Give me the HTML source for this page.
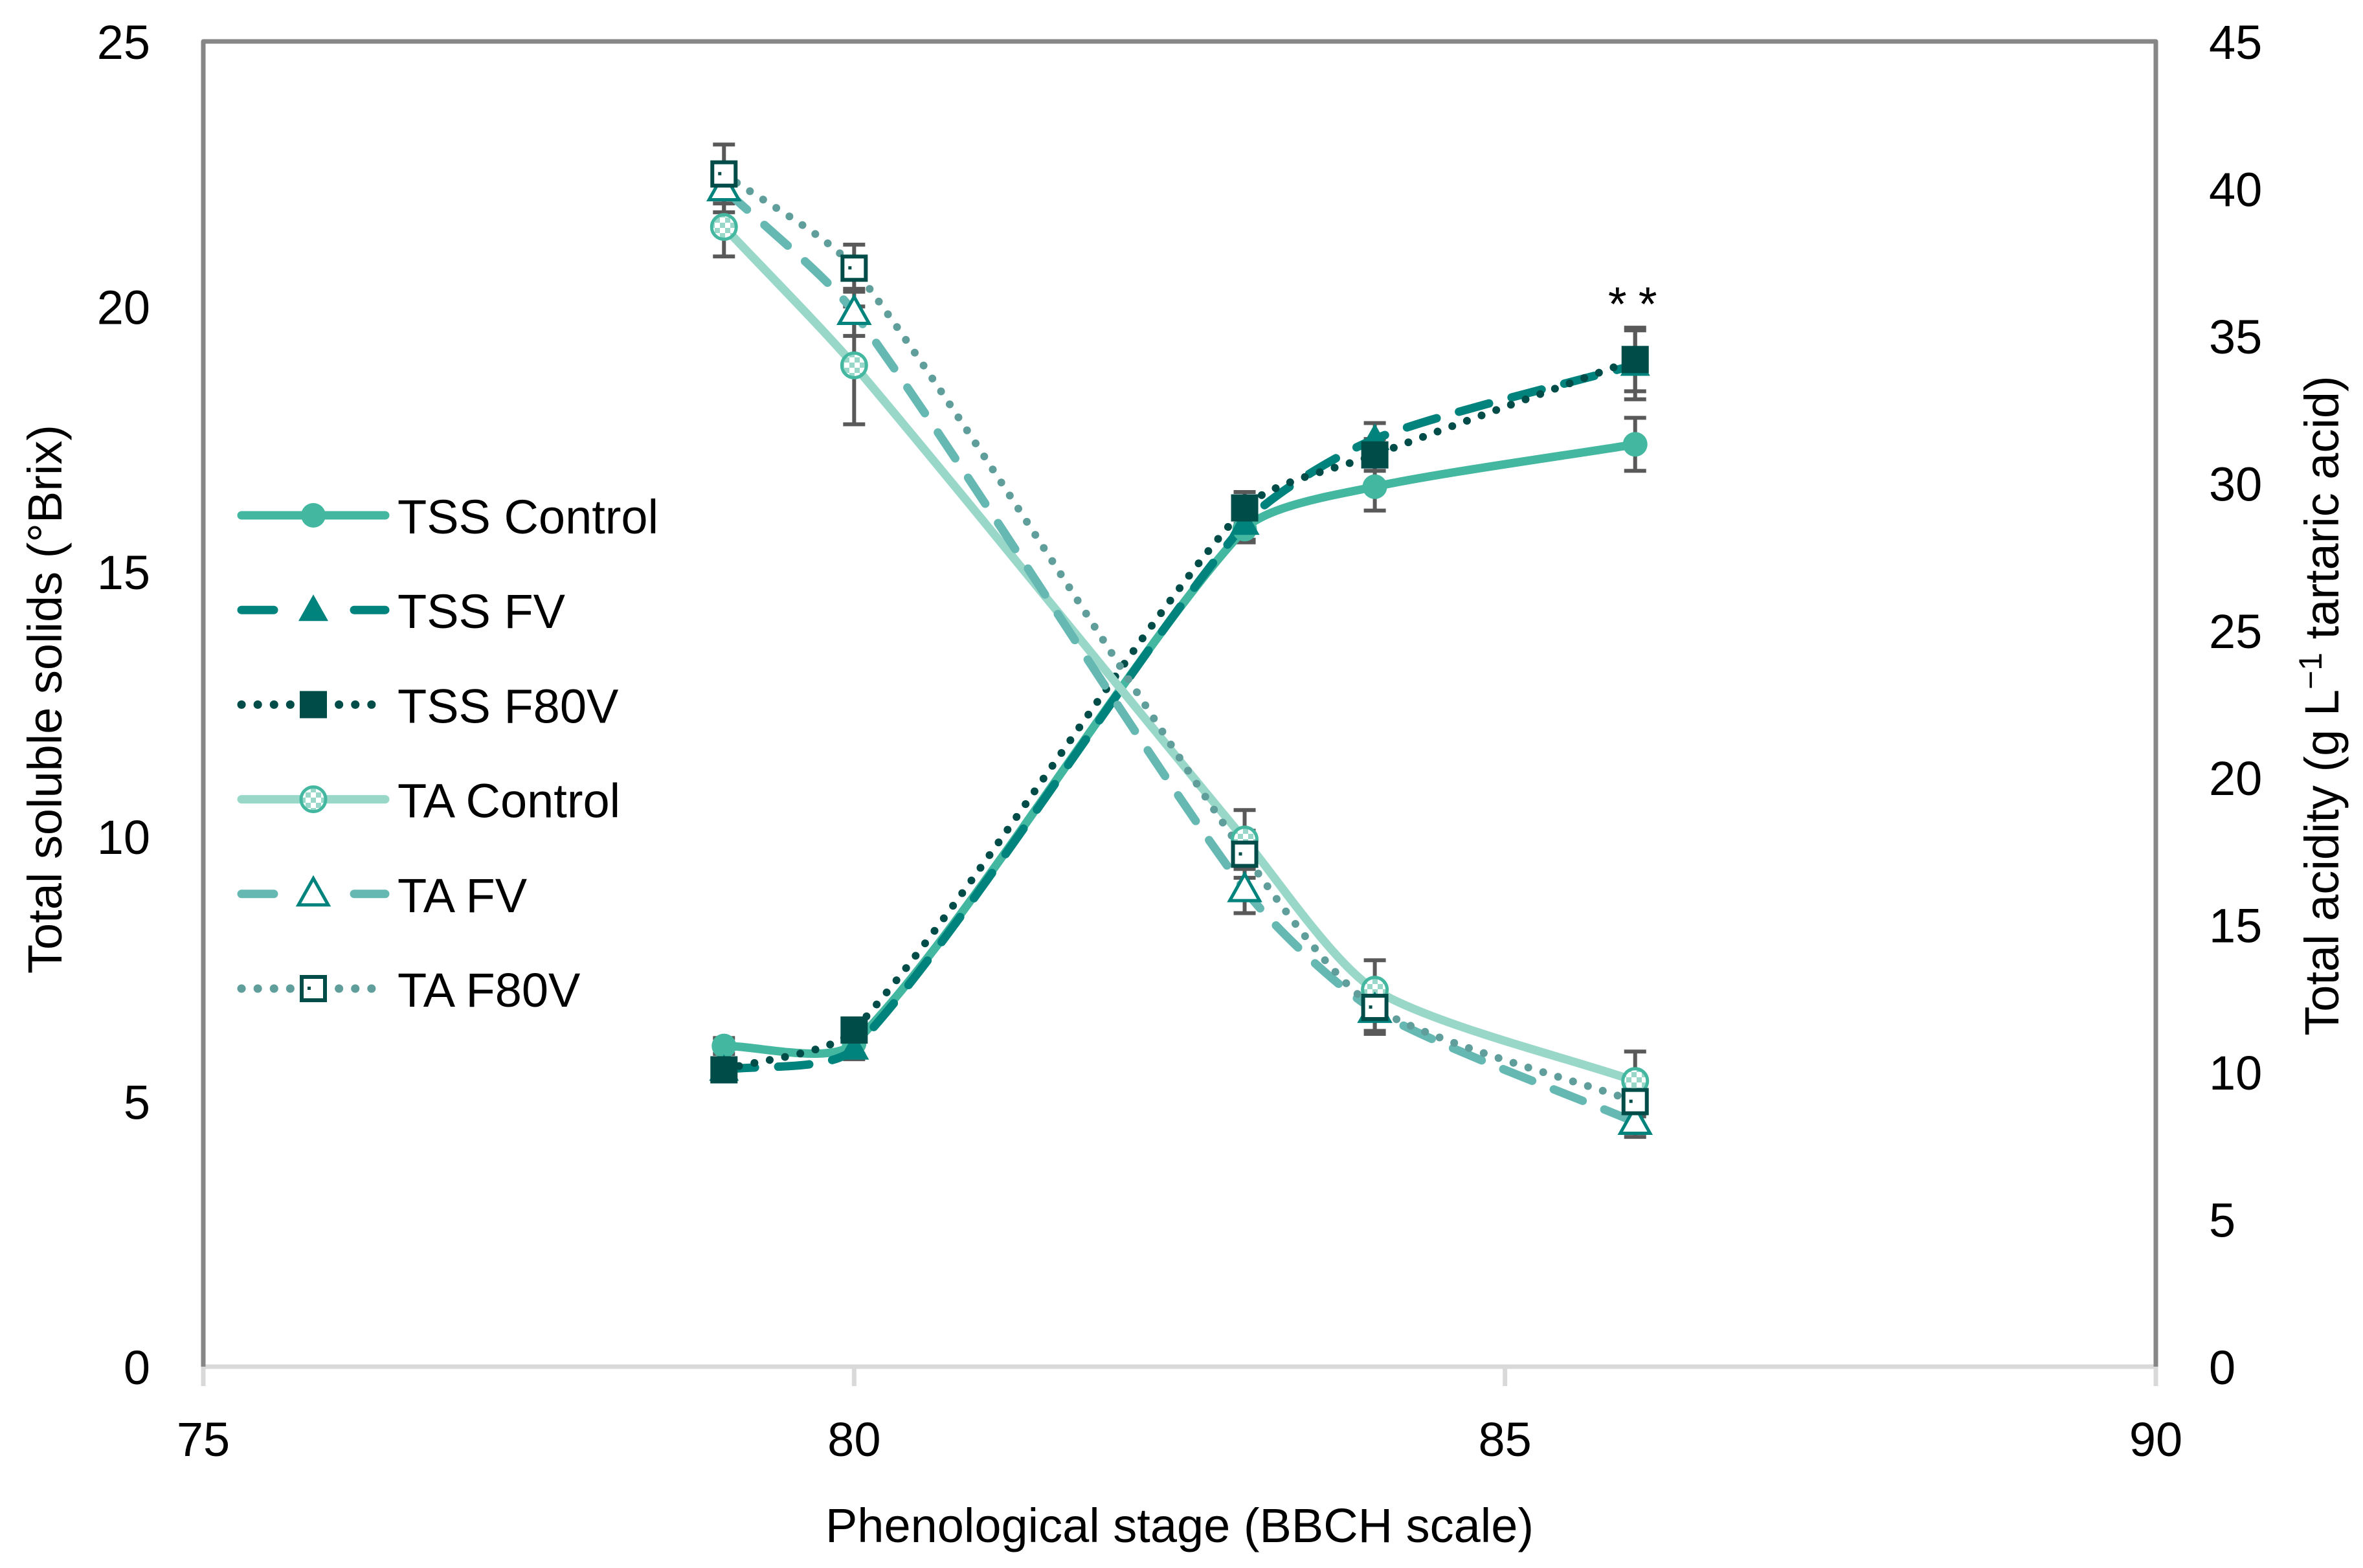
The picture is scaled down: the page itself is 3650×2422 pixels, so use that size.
<!DOCTYPE html>
<html><head><meta charset="utf-8">
<style>
html,body{margin:0;padding:0;background:#fff;}
svg{display:block;}
text{font-family:"Liberation Sans",sans-serif;fill:#000;}
</style></head>
<body>
<svg id="chart" width="3650" height="2422" viewBox="0 0 3650 2422" xmlns="http://www.w3.org/2000/svg">
<defs>
<pattern id="checker" width="16" height="16" patternUnits="userSpaceOnUse">
<rect width="16" height="16" fill="#fff"/>
<rect width="8" height="8" fill="#99d8c9"/>
<rect x="8" y="8" width="8" height="8" fill="#99d8c9"/>
</pattern>
</defs>
<g id="axes"></g>
<g id="series"></g>
<g id="legend"></g>
</svg>
<script>
const stages = [79, 80, 83, 84, 86];
const tssControl = [6.05, 6.1, 15.8, 16.6, 17.4];
const tssFV = [5.6, 6.0, 15.9, 17.5, 18.9];
const tssF80V = [5.6, 6.35, 16.2, 17.2, 19.0];
const tssControlErr = [0.15, 0.2, 0.25, 0.45, 0.5];
const tssFVErr = [0.15, 0.2, 0.3, 0.3, 0.65];
const tssF80VErr = [0.15, 0.2, 0.3, 0.3, 0.6];
const taControl = [38.7, 34.0, 17.9, 12.8, 9.7];
const taFV = [40.0, 35.8, 16.2, 12.1, 8.3];
const taF80V = [40.5, 37.3, 17.4, 12.2, 9.0];
const taControlErr = [1.0, 2.0, 1.0, 1.0, 1.0];
const taFVErr = [0.8, 0.8, 0.8, 0.8, 0.5];
const taF80VErr = [1.0, 0.8, 0.8, 0.8, 0.5];
const xTicks = [75, 80, 85, 90];
const yLeftTicks = [0, 5, 10, 15, 20, 25];
const yRightTicks = [0, 5, 10, 15, 20, 25, 30, 35, 40, 45];
const legendLabels = ["TSS Control", "TSS FV", "TSS F80V", "TA Control", "TA FV", "TA F80V"];

const NS = "http://www.w3.org/2000/svg";
const L = 314, R = 3330, T = 64, B = 2111;
function xs(v){ return L + (v - 75) / 15 * (R - L); }
function yl(v){ return B - v / 25 * (B - T); }
function yr(v){ return B - v / 45 * (B - T); }
function mk(tag, attrs, parent){
  const e = document.createElementNS(NS, tag);
  for (const k in attrs) e.setAttribute(k, attrs[k]);
  parent.appendChild(e);
  return e;
}
const axes = document.getElementById('axes');
const ser = document.getElementById('series');
const leg = document.getElementById('legend');

let e;
e = mk('line', {x1:L, y1:B, x2:R, y2:B, stroke:'#d9d9d9', 'stroke-width':7}, axes);


e = mk('path', {d:`M${L},${B} L${L},${T} L${R},${T} L${R},${B}`, fill:'none', stroke:'#868686', 'stroke-width':7, 'stroke-linejoin':'round'}, axes);



xTicks.forEach(v => {
  const t = mk('line', {x1:xs(v), y1:B, x2:xs(v), y2:B + 30, stroke:'#d9d9d9', 'stroke-width':7}, axes);
  
  
  const lb = mk('text', {x:xs(v), y:B + 138, 'font-size':74, 'text-anchor':'middle'}, axes);
  lb.textContent = v;
  
  
});
yLeftTicks.forEach(v => {
  const lb = mk('text', {x:232, y:yl(v) + 27, 'font-size':74, 'text-anchor':'end'}, axes);
  lb.textContent = v;
  
  
});
yRightTicks.forEach(v => {
  const lb = mk('text', {x:3412, y:yr(v) + 27, 'font-size':74, 'text-anchor':'start'}, axes);
  lb.textContent = v;
  
  
});
e = mk('text', {x:1822, y:2382, 'font-size':74, 'text-anchor':'middle'}, axes);
e.textContent = 'Phenological stage (BBCH scale)';


e = mk('text', {x:0, y:0, 'font-size':74, 'text-anchor':'middle', transform:'translate(95,1080) rotate(-90)'}, axes);
e.textContent = 'Total soluble solids (°Brix)';


e = mk('text', {x:0, y:0, 'font-size':74, 'text-anchor':'middle', transform:'translate(3612,1090) rotate(-90)'}, axes);
e.innerHTML = 'Total acidity (g L<tspan dy="-26" font-size="50">−1</tspan><tspan dy="26"> tartaric acid)</tspan>';



function smoothPath(pts){
  let d = `M${pts[0][0]},${pts[0][1]}`;
  const t = 0.12;
  for (let i = 0; i < pts.length - 1; i++){
    const p0 = pts[Math.max(0, i - 1)], p1 = pts[i], p2 = pts[i + 1], p3 = pts[Math.min(pts.length - 1, i + 2)];
    const seg = Math.hypot(p2[0]-p1[0], p2[1]-p1[1]);
    const d1 = Math.hypot(p2[0]-p0[0], p2[1]-p0[1]) || 1;
    const d2 = Math.hypot(p3[0]-p1[0], p3[1]-p1[1]) || 1;
    const k1 = Math.min(t * 2 * seg / d1 * 1.0, 0.3);
    const k2 = Math.min(t * 2 * seg / d2 * 1.0, 0.3);
    const c1 = [p1[0] + (p2[0] - p0[0]) * k1, p1[1] + (p2[1] - p0[1]) * k1];
    const c2 = [p2[0] - (p3[0] - p1[0]) * k2, p2[1] - (p3[1] - p1[1]) * k2];
    d += ` C${c1[0]},${c1[1]} ${c2[0]},${c2[1]} ${p2[0]},${p2[1]}`;
  }
  return d;
}

const styles = [
  {vals:tssControl, err:tssControlErr, y:yl, color:'#43b7a0', dash:null, marker:'circle', fill:'#43b7a0', mstroke:'#43b7a0', name:'tss-control'},
  {vals:tssFV, err:tssFVErr, y:yl, color:'#00837c', dash:'48 36', marker:'triangle', fill:'#00837c', mstroke:'#00837c', name:'tss-fv'},
  {vals:tssF80V, err:tssF80VErr, y:yl, color:'#004c48', dash:'0.1 24', marker:'square', fill:'#004c48', mstroke:'#004c48', name:'tss-f80v'},
  {vals:taControl, err:taControlErr, y:yr, color:'#99d8c9', dash:null, marker:'circle', fill:'url(#checker)', mstroke:'#43b7a0', name:'ta-control'},
  {vals:taFV, err:taFVErr, y:yr, color:'#66b8b3', dash:'48 36', marker:'triangle', fill:'#fff', mstroke:'#00837c', name:'ta-fv'},
  {vals:taF80V, err:taF80VErr, y:yr, color:'#5f9e9a', dash:'0.1 24', marker:'square', fill:'#fff', mstroke:'#004c48', name:'ta-f80v'}
];

function drawMarker(s, cx, cy, parent, label){
  let m;
  if (s.marker === 'circle'){
    m = mk('circle', {cx:cx, cy:cy, r:19, fill:s.fill, stroke:s.mstroke, 'stroke-width':s.fill === '#43b7a0' ? 0 : 5}, parent);
  } else if (s.marker === 'triangle'){
    m = mk('polygon', {points:`${cx},${cy-24} ${cx+23},${cy+17} ${cx-23},${cy+17}`, fill:s.fill, stroke:s.mstroke, 'stroke-width':s.fill === '#fff' ? 5 : 0, 'stroke-linejoin':'miter'}, parent);
  } else {
    const sz = s.fill === '#fff' ? 36 : 42;
    m = mk('rect', {x:cx - sz/2, y:cy - sz/2, width:sz, height:sz, fill:s.fill, stroke:s.mstroke, 'stroke-width':s.fill === '#fff' ? 6 : 0}, parent);
    if (s.fill === '#fff'){
      const dot = mk('rect', {x:cx - 9, y:cy - 3, width:5, height:5, fill:s.mstroke}, parent);
      
      
    }
  }
  
  
}

styles.forEach(s => {
  s.vals.forEach((v, i) => {
    const x = xs(stages[i]), y1 = s.y(v + s.err[i]), y2 = s.y(v - s.err[i]);
    const g = mk('path', {d:`M${x},${y1} L${x},${y2} M${x-17},${y1} L${x+17},${y1} M${x-17},${y2} L${x+17},${y2}`, stroke:'#595959', 'stroke-width':6, fill:'none'}, ser);
    
    
  });
});
styles.forEach(s => {
  const pts = s.vals.map((v, i) => [xs(stages[i]), s.y(v)]);
  const attrs = {d:smoothPath(pts), fill:'none', stroke:s.color, 'stroke-width':s.dash && s.dash.startsWith('0.1') ? 12 : 13, 'stroke-linecap':'round'};
  if (s.dash) attrs['stroke-dasharray'] = s.dash;
  const p = mk('path', attrs, ser);
  
  
});
styles.forEach(s => {
  s.vals.forEach((v, i) => {
    drawMarker(s, xs(stages[i]), s.y(v), ser, s.name + '-point');
  });
});
e = mk('text', {x:xs(86) + 5, y:495, 'font-size':74, 'text-anchor':'middle', 'letter-spacing':'18'}, ser);
e.textContent = '**';



const legY0 = 796, legStep = 146.2;
styles.forEach((s, i) => {
  const y = legY0 + i * legStep;
  const attrs = {x1:373, y1:y, x2:595, y2:y, stroke:s.color, 'stroke-width':13, 'stroke-linecap':'round'};
  if (s.dash) attrs['stroke-dasharray'] = s.dash.startsWith('0.1') ? '0.1 25' : '50 124';
  const ln = mk('line', attrs, leg);
  
  
  drawMarker(s, 484, y, leg, 'legend-marker');
  const tx = mk('text', {x:614, y:y + 28, 'font-size':74}, leg);
  tx.textContent = legendLabels[i];
  
  
});
</script>
</body></html>
